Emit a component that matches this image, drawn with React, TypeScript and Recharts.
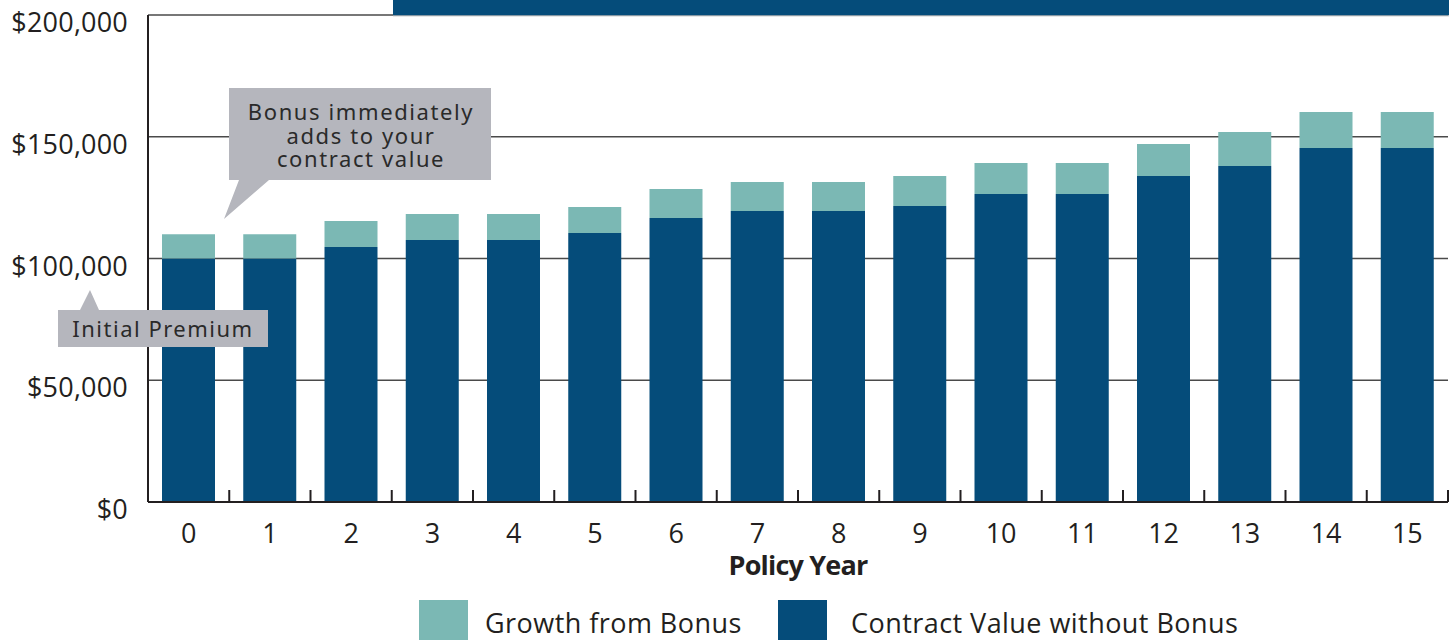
import { BarChart, Bar, XAxis, YAxis, CartesianGrid, Legend, Label } from "recharts";

const years = ["0", "1", "2", "3", "4", "5", "6", "7", "8", "9", "10", "11", "12", "13", "14", "15"];
const contractValue = [100000, 100000, 104700, 107600, 107600, 110500, 116600, 119500, 119500, 121600, 126500, 126500, 133900, 138000, 145400, 145400];
const bonusGrowth = [10000, 10000, 10700, 10700, 10700, 10600, 11900, 11900, 11900, 12300, 12700, 12700, 13100, 14000, 14800, 14800];
const yTicks = [0, 50000, 100000, 150000, 200000];

const DARK = "#054c7a";
const TEAL = "#7bb8b4";
const INK = "#231f20";
const CALLOUT = "#b5b6bd";
const FONT = "'Open Sans', sans-serif";

const data = years.map((y, i) => ({
  year: y,
  contract: contractValue[i],
  growth: bonusGrowth[i],
}));

function fmtMoney(v: number) {
  return "$" + v.toLocaleString("en-US");
}

function YTick(props: any) {
  const { x, y, payload } = props;
  return (
    <text x={x} y={y + 17} textAnchor="end" fill={INK} fontSize={27} fontFamily={FONT} letterSpacing={0.2}>
      {fmtMoney(payload.value)}
    </text>
  );
}

// label under the band centre, plus an inward tick mark on the band boundaries
function XTick(props: any) {
  const { x, y, payload, index, width, visibleTicksCount } = props;
  const band = width && visibleTicksCount ? width / visibleTicksCount : 81.25;
  return (
    <g>
      <line x1={x - band / 2} x2={x - band / 2} y1={y - 12} y2={y} stroke={INK} strokeWidth={2} />
      {index === visibleTicksCount - 1 && (
        <line x1={x + band / 2} x2={x + band / 2} y1={y - 12} y2={y} stroke={INK} strokeWidth={2} />
      )}
      <text x={x} y={y + 41} textAnchor="middle" fill={INK} fontSize={27} fontFamily={FONT}>
        {payload.value}
      </text>
    </g>
  );
}

function LegendContent() {
  const items = [
    { name: "Growth from Bonus", color: TEAL, x: 419, tx: 485 },
    { name: "Contract Value without Bonus", color: DARK, x: 778, tx: 851 },
  ];
  return (
    <div style={{ position: "relative", width: 1455, height: 42 }}>
      {items.map((it) => (
        <div key={it.name}>
          <div
            style={{ position: "absolute", left: it.x, top: 2, width: 49, height: 42, background: it.color }}
          />
          <div
            style={{
              position: "absolute",
              left: it.tx,
              top: 5,
              fontFamily: FONT,
              fontSize: 27,
              color: INK,
              whiteSpace: "nowrap",
              lineHeight: "40px",
              letterSpacing: 0.45,
            }}
          >
            {it.name}
          </div>
        </div>
      ))}
    </div>
  );
}

export default function App() {
  return (
    <div style={{ position: "absolute", left: 0, top: 0, width: 1455, height: 640, overflow: "hidden", background: "#fff" }}>
      <BarChart
        width={1455}
        height={640}
        data={data}
        margin={{ top: 15, right: 7, bottom: 0, left: 0 }}
        barSize={53}
      >
        <CartesianGrid vertical={false} stroke="#4a4a4a" strokeWidth={1.4} />
        <YAxis
          width={148}
          domain={[0, 200000]}
          ticks={yTicks}
          interval={0}
          tickLine={false}
          tickSize={0}
          tickMargin={20}
          axisLine={{ stroke: INK, strokeWidth: 2 }}
          tick={<YTick />}
        />
        <XAxis
          dataKey="year"
          height={138}
          interval={0}
          tickLine={false}
          tickSize={0}
          tickMargin={0}
          axisLine={{ stroke: INK, strokeWidth: 2 }}
          tick={<XTick />}
        >
          <Label
            content={(p: any) => {
              const vb = p.viewBox || { x: 148, y: 502, width: 1300 };
              return (
                <text
                  x={vb.x + vb.width / 2}
                  y={vb.y + 73}
                  textAnchor="middle"
                  fill={INK}
                  fontSize={27}
                  fontWeight={700}
                  fontFamily={FONT}
                  letterSpacing={-0.8}
                >
                  Policy Year
                </text>
              );
            }}
          />
        </XAxis>
        <Legend
          layout="horizontal"
          verticalAlign="middle"
          align="center"
          wrapperStyle={{ top: 598, left: 0, width: 1455 }}
          content={<LegendContent />}
        />
        <Bar dataKey="contract" name="Contract Value without Bonus" stackId="v" fill={DARK} isAnimationActive={false} />
        <Bar dataKey="growth" name="Growth from Bonus" stackId="v" fill={TEAL} isAnimationActive={false} />
      </BarChart>

      <svg
        width={1455}
        height={640}
        style={{ position: "absolute", left: 0, top: 0, pointerEvents: "none" }}
      >
        <rect x={393} y={0} width={1056} height={15.5} fill={DARK} />
        <line x1={393} x2={1449} y1={16} y2={16} stroke="#d0d0d0" strokeWidth={1} />

        <polygon points="229,88 491,88 491,180 269,180 224,219 239,180 229,180" fill={CALLOUT} />
        <g fontFamily="'Noto Sans', sans-serif" fontSize={22} fill="#2a2a2a" textAnchor="middle" letterSpacing={1.6}>
          <text x={361} y={120}>Bonus immediately</text>
          <text x={361} y={144}>adds to your</text>
          <text x={361} y={167}>contract value</text>
        </g>

        <polygon points="58,310 80,310 90,290 99,310 268,310 268,347 58,347" fill={CALLOUT} />
        <text
          x={163}
          y={337}
          textAnchor="middle"
          fontFamily="'Noto Sans', sans-serif"
          fontSize={22}
          fill="#2a2a2a"
          letterSpacing={1.5}
        >
          Initial Premium
        </text>
      </svg>
    </div>
  );
}
